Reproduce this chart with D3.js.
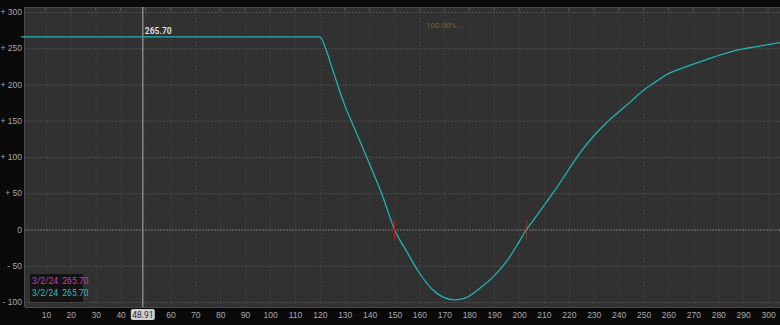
<!DOCTYPE html>
<html>
<head>
<meta charset="utf-8">
<script src="https://cdn.jsdelivr.net/npm/d3@7"></script>
<style>
  body { margin: 0; background: #0a0a0a; }
  svg { display: block; font-family: Roboto, "DejaVu Sans", sans-serif; }
</style>
</head>
<body>
<svg width="780" height="325"></svg>
<script>
// price points along the x axis and the P/L value at each
var prices = [0, 120, 123, 125, 127, 129.5, 135, 140, 145, 150, 155, 160, 165, 170, 174, 178, 185, 190, 195, 200, 203,
              205, 210, 215, 220, 225, 230, 235, 240, 245, 250, 255, 260, 265, 270, 275, 280, 285, 290, 295, 300, 305];
var pl = [265.7, 265.7, 243, 222, 201, 176, 131, 90, 48, 0, -31, -60, -82, -94, -97, -95, -79, -64, -44, -17, 0,
          9, 33, 57, 83, 108, 129, 147, 162, 177, 192, 204, 215, 222, 228, 234, 240, 245, 249, 252, 255, 258];
var breakevens = [150, 203];
var xTicks = d3.range(10, 301, 10);
var yTicks = [300, 250, 200, 150, 100, 50, 0, -50, -100];
var cursorX = 48.91, cursorY = 265.70;
var legendRows = [{label: "3/2/24", value: "265.70", color: "#c23fb0"},
                  {label: "3/2/24", value: "265.70", color: "#2fbcbc"}];

function main() {
  var svg = d3.select("svg");
  var pLeft = 25, pRight = 780, pTop = 7, pBottom = 307;

  var x = d3.scaleLinear().domain([1.6, 304.8]).range([pLeft, pRight]);
  var y = d3.scaleLinear().domain([-106.9, 306.9]).range([pBottom, pTop]);

  // plot background
  svg.append("rect").attr("x", pLeft).attr("y", pTop).attr("width", pRight - pLeft).attr("height", pBottom - pTop)
     .attr("fill", "#313131");

  // vertical grid
  var vg = svg.append("g").attr("transform", "translate(0," + pBottom + ")")
    .call(d3.axisBottom(x).tickValues(xTicks).tickSize(-(pBottom - pTop)).tickFormat(""));
  vg.select(".domain").remove();
  vg.selectAll("line").attr("stroke", "#474747").attr("stroke-dasharray", "1,2");

  // horizontal grid
  var hg = svg.append("g").attr("transform", "translate(" + pLeft + ",0)")
    .call(d3.axisLeft(y).tickValues(yTicks).tickSize(-(pRight - pLeft)).tickFormat(""));
  hg.select(".domain").remove();
  hg.selectAll("line").attr("stroke", function(d) { return d === 0 ? "#7a7a7a" : "#4a4a4a"; })
    .attr("stroke-dasharray", "2,1");

  // small tick marks on top edge
  svg.append("g").selectAll("line").data(xTicks).enter().append("line")
     .attr("x1", function(d) { return x(d); }).attr("x2", function(d) { return x(d); })
     .attr("y1", pTop).attr("y2", pTop + 4).attr("stroke", "#555");

  // frame
  svg.append("line").attr("x1", pLeft).attr("x2", pRight).attr("y1", pTop + 0.5).attr("y2", pTop + 0.5).attr("stroke", "#4a4a4a");
  svg.append("line").attr("x1", pLeft - 0.5).attr("x2", pLeft - 0.5).attr("y1", pTop).attr("y2", pBottom).attr("stroke", "#4a4a4a");
  svg.append("line").attr("x1", pLeft).attr("x2", pRight).attr("y1", pBottom + 0.5).attr("y2", pBottom + 0.5).attr("stroke", "#4a4a4a");

  // x tick labels (the one under the cursor label is hidden, as in the platform)
  var xa = svg.append("g").attr("transform", "translate(0," + (pBottom + 2) + ")")
    .call(d3.axisBottom(x).tickValues(xTicks).tickSize(0).tickPadding(3));
  xa.select(".domain").remove();
  xa.selectAll("text").attr("fill", "#a8a8a8").attr("font-size", "8.5px")
    .style("visibility", function(d) { return Math.abs(x(d) - x(cursorX)) < 14 ? "hidden" : null; });

  // y tick labels
  var ya = svg.append("g").attr("transform", "translate(" + (pLeft - 3) + ",0)")
    .call(d3.axisLeft(y).tickValues(yTicks).tickSize(0).tickPadding(0)
      .tickFormat(function(d) { return d > 0 ? "+ " + d : d < 0 ? "- " + (-d) : "0"; }));
  ya.select(".domain").remove();
  ya.selectAll("text").attr("fill", "#a8a8a8").attr("font-size", "8.5px");

  // cursor line
  svg.append("line").attr("x1", x(cursorX)).attr("x2", x(cursorX)).attr("y1", pTop).attr("y2", pBottom)
     .attr("stroke", "#9a9a9a").attr("stroke-width", 1.2);

  // P/L curve
  var line = d3.line().curve(d3.curveMonotoneX)
    .x(function(d, i) { return x(prices[i]); }).y(function(d) { return y(d); });
  svg.append("path").datum(pl).attr("d", line).attr("fill", "none")
     .attr("stroke", "#1fb3b3").attr("stroke-width", 1.3);

  // breakeven markers
  svg.append("g").selectAll("line").data(breakevens).enter().append("line")
     .attr("x1", function(d) { return x(d); }).attr("x2", function(d) { return x(d); })
     .attr("y1", y(0) - 9).attr("y2", y(0) + 10)
     .attr("stroke", function(d, i) { return i === 0 ? "#b01c1c" : "#a0401c"; })
     .attr("stroke-width", 1.2)
     .attr("stroke-dasharray", function(d, i) { return i === 0 ? null : "2,1"; });

  // cursor value label
  svg.append("text").attr("x", x(cursorX) + 2).attr("y", y(cursorY) - 3)
     .attr("fill", "#dddddd").attr("font-size", "8.5px").attr("font-weight", "bold").text(cursorY.toFixed(2));

  // probability text
  svg.append("text").attr("x", 426).attr("y", 28).attr("fill", "#7e5e22").attr("font-size", "8px").text("100.00%...");

  // cursor x label
  var cx = x(cursorX);
  svg.append("rect").attr("x", cx - 12).attr("y", 309).attr("width", 24).attr("height", 11).attr("rx", 2)
     .attr("fill", "#cfcfcf");
  svg.append("text").attr("x", cx).attr("y", 317.5).attr("text-anchor", "middle")
     .attr("fill", "#333").attr("font-size", "8.5px").text(cursorX.toFixed(2));

  // legend
  var lg = svg.append("g").attr("transform", "translate(30,274)");
  lg.append("rect").attr("width", 53).attr("height", 28).attr("fill", "#141414").attr("rx", 1);
  lg.selectAll("text").data(legendRows).enter().append("text")
    .attr("x", 2).attr("y", function(d, i) { return 10 + i * 12; })
    .attr("fill", function(d) { return d.color; }).attr("font-size", "8.5px")
    .attr("xml:space", "preserve")
    .text(function(d) { return d.label + "  " + d.value; });
}

main();
</script>
</body>
</html>
